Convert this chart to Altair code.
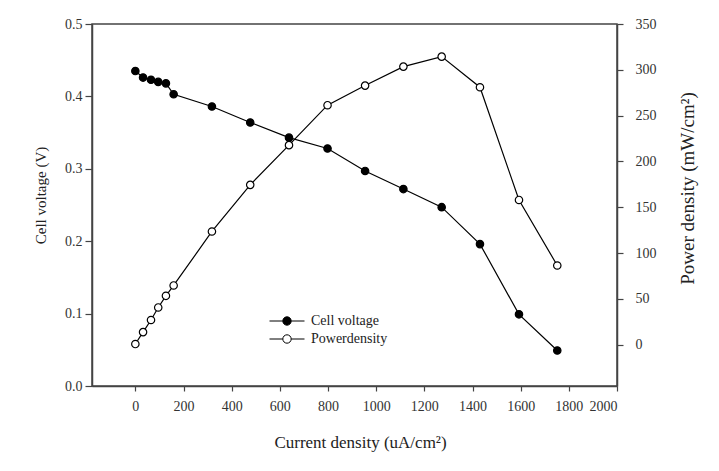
import altair as alt
import pandas as pd

current = [0, 32, 65, 95, 127, 159, 318, 477, 638, 798, 954, 1113, 1272, 1431, 1593, 1752]
voltage = [0.435, 0.426, 0.423, 0.420, 0.418, 0.403, 0.386, 0.364, 0.343, 0.328,
           0.297, 0.272, 0.247, 0.196, 0.099, 0.049]
power = [0.8, 13.8, 27.0, 40.7, 53.4, 64.7, 123.6, 174.5, 217.8, 261.4,
         282.8, 303.5, 314.4, 281.0, 158.0, 86.5]
series_names = ["Cell voltage", "Powerdensity"]
x_ticks = list(range(0, 2001, 200))
v_ticks = [0.0, 0.1, 0.2, 0.3, 0.4, 0.5]
p_ticks = list(range(0, 351, 50))

dv = pd.DataFrame({"current": current, "value": voltage, "series": series_names[0]})
dp = pd.DataFrame({"current": current, "value": power, "series": series_names[1]})

FONT = "Liberation Serif"
xenc = alt.X("current:Q", scale=alt.Scale(domain=[-180, 2000], nice=False, zero=False),
             axis=alt.Axis(values=x_ticks, format="d", title="Current density (uA/cm²)",
                           labelPadding=8, titleFontSize=17, titleX=268, titleY=56,
                           titleAlign="center", titleBaseline="middle"))

r = 4.2 / 5
leg_path = (f"M-3.5,0H-{r}A{r},{r} 0 1,1 {r},0A{r},{r} 0 1,1 -{r},0M{r},0H3.5")

fill_enc = alt.Fill("series:N",
                    scale=alt.Scale(domain=series_names, range=["black", "white"]),
                    legend=alt.Legend(title=None, orient="none", legendX=188, legendY=290,
                                      symbolType=leg_path, symbolSize=100,
                                      symbolStrokeColor="black", symbolStrokeWidth=1,
                                      labelOffset=17, rowPadding=4, labelFont=FONT,
                                      labelFontSize=14, labelColor="#222"))

yv = alt.Y("value:Q", scale=alt.Scale(domain=[0, 0.5], nice=False),
           axis=alt.Axis(values=v_ticks, format=".1f", title="Cell voltage (V)",
                         orient="left", labelPadding=3, tickSize=7, titleFontSize=15,
                         titleAngle=270, titleX=-52, titleY=171, titleAlign="center",
                         titleBaseline="middle"))
yp = alt.Y("value:Q", scale=alt.Scale(domain=[-45, 350], nice=False, zero=False),
           axis=alt.Axis(values=p_ticks, title="Power density (mW/cm²)", orient="right",
                         labelPadding=12, tickSize=6, titleFontSize=19,
                         titleAngle=270, titleX=70, titleY=164, titleAlign="center",
                         titleBaseline="middle"))

v_line = alt.Chart(dv).mark_line(color="black", strokeWidth=1.2).encode(x=xenc, y=yv)
v_pts = alt.Chart(dv).mark_point(filled=False, size=55, stroke="black", strokeWidth=1.2,
                                 opacity=1).encode(x=xenc, y=yv, fill=fill_enc)
p_line = alt.Chart(dp).mark_line(color="black", strokeWidth=1.2).encode(x=xenc, y=yp)
p_pts = alt.Chart(dp).mark_point(filled=False, size=55, stroke="black", strokeWidth=1.2,
                                 opacity=1).encode(x=xenc, y=yp, fill=fill_enc)

left = alt.layer(v_line, v_pts)
right = alt.layer(p_line, p_pts)

chart = alt.layer(left, right).resolve_scale(y="independent").properties(
    width=525, height=362,
    autosize=alt.AutoSizeParams(type="none"),
    padding={"left": 92, "top": 24, "right": 102, "bottom": 85},
    background="white",
).configure_view(stroke="#444", strokeWidth=1.5).configure_axis(
    labelFont=FONT, titleFont=FONT, labelFontSize=14,
    labelColor="#333", titleColor="#222", titleFontWeight="normal",
    domainColor="#444", domainWidth=1.5, tickColor="#444", tickWidth=1.2, tickSize=5,
    grid=False,
)

chart.save("out.html", embed_options={"renderer": "svg", "actions": False})
